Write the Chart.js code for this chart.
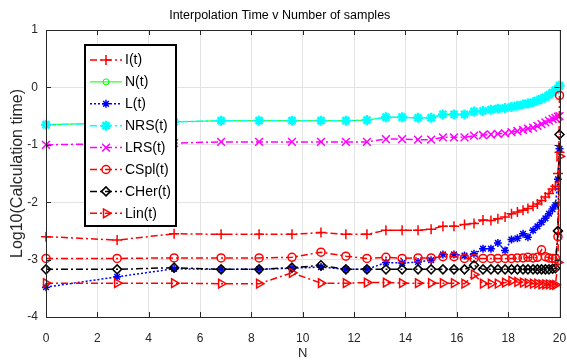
<!DOCTYPE html>
<html>
<head>
<meta charset="utf-8">
<script src="https://cdn.jsdelivr.net/npm/chart.js@4.4.1/dist/chart.umd.min.js"></script>
<style>
html,body{margin:0;padding:0;background:#fff;}
#wrap{width:567px;height:362px;}
</style>
</head>
<body>
<div id="wrap"><canvas id="c" width="567" height="362"></canvas></div>
<script>
// ---------- data ----------
const TITLE = 'Interpolation Time v Number of samples';
const X_LABEL = 'N';
const Y_LABEL = 'Log10(Calculation time)';
const SERIES_NAMES = ['I(t)', 'N(t)', 'L(t)', 'NRS(t)', 'LRS(t)', 'CSpl(t)', 'CHer(t)', 'Lin(t)'];
const X_TICKS = [0, 2, 4, 6, 8, 10, 12, 14, 16, 18, 20];
const Y_TICKS = [1, 0, -1, -2, -3, -4];

const N_values = [0, 2.77, 4.99, 6.82, 8.30, 9.58, 10.71, 11.68, 12.50, 13.24, 13.87, 14.49, 15.00, 15.46, 15.89, 16.30, 16.67,
  17.02, 17.33, 17.60, 17.88, 18.13, 18.36, 18.58, 18.77, 18.97, 19.14, 19.30, 19.45, 19.59, 19.73, 19.84, 19.94, 20.00];

const I_t = [-2.60, -2.66, -2.55, -2.56, -2.56, -2.56, -2.53, -2.56, -2.56, -2.49, -2.49, -2.49, -2.47, -2.42, -2.42, -2.39, -2.37,
  -2.31, -2.32, -2.29, -2.26, -2.20, -2.17, -2.14, -2.11, -2.07, -2.03, -1.97, -1.91, -1.85, -1.77, -1.72, -1.50, -1.13];

const N_t = [-0.65, -0.62, -0.60, -0.58, -0.58, -0.58, -0.58, -0.58, -0.57, -0.52, -0.52, -0.53, -0.53, -0.47, -0.47, -0.47, -0.42,
  -0.41, -0.39, -0.37, -0.36, -0.34, -0.32, -0.30, -0.28, -0.26, -0.23, -0.20, -0.17, -0.13, -0.09, -0.05, -0.01, 0.05];

const L_t = [-3.48, -3.30, -3.16, -3.17, -3.17, -3.15, -3.13, -3.17, -3.17, -3.05, -3.06, -3.04, -3.01, -2.91, -2.91, -2.93, -2.90,
  -2.81, -2.81, -2.71, -2.84, -2.65, -2.63, -2.55, -2.61, -2.49, -2.42, -2.35, -2.28, -2.20, -2.12, -2.05, -1.60, -1.07];

const NRS_t = [-0.65, -0.62, -0.60, -0.58, -0.58, -0.58, -0.58, -0.58, -0.57, -0.52, -0.52, -0.53, -0.53, -0.47, -0.47, -0.47, -0.42,
  -0.41, -0.39, -0.37, -0.36, -0.34, -0.32, -0.30, -0.28, -0.26, -0.23, -0.20, -0.17, -0.13, -0.09, -0.05, -0.02, 0.03];

const LRS_t = [-1.00, -0.98, -0.97, -0.95, -0.95, -0.95, -0.95, -0.95, -0.95, -0.90, -0.90, -0.91, -0.91, -0.87, -0.87, -0.87, -0.84,
  -0.83, -0.82, -0.81, -0.80, -0.78, -0.76, -0.74, -0.72, -0.70, -0.67, -0.64, -0.61, -0.58, -0.55, -0.53, -0.51, -0.50];

const CSpl_t = [-2.98, -2.98, -2.97, -2.97, -2.97, -2.96, -2.87, -2.94, -2.98, -2.96, -2.98, -2.97, -2.97, -2.95, -2.95, -2.98, -2.98,
  -2.98, -2.98, -2.98, -2.98, -2.98, -2.97, -2.97, -2.96, -2.97, -2.96, -2.83, -2.95, -2.97, -2.98, -2.98, -2.60, -0.14];

const CHer_t = [-3.17, -3.17, -3.14, -3.17, -3.17, -3.14, -3.10, -3.17, -3.17, -3.17, -3.17, -3.17, -3.17, -3.17, -3.17, -3.17, -3.10,
  -3.17, -3.17, -3.17, -3.17, -3.17, -3.17, -3.17, -3.17, -3.17, -3.17, -3.17, -3.17, -3.17, -3.16, -3.15, -2.50, -0.82];

const Lin_t = [-3.41, -3.41, -3.41, -3.42, -3.42, -3.23, -3.41, -3.41, -3.40, -3.40, -3.41, -3.41, -3.41, -3.41, -3.41, -3.42, -3.26,
  -3.42, -3.42, -3.42, -3.40, -3.37, -3.39, -3.40, -3.41, -3.42, -3.42, -3.43, -3.43, -3.43, -3.44, -3.44, -3.05, -1.20];

// ---------- styling ----------
const FONT = '"Liberation Sans", Arial, Helvetica, sans-serif';
const AXIS_COLOR = '#262626';
const DASHDOT = [7, 3, 2, 3];
const DOTTED = [2, 2];

function pts(ys) { return N_values.map((x, i) => ({ x: x, y: ys[i] })); }

const styles = [
  { data: I_t,    color: '#ff0000', dash: DASHDOT, ps: 'cross',    r: 5,   rot: 0,  w: 1.5, pw: 1.5 },
  { data: N_t,    color: '#00ff00', dash: [],      ps: 'circle',   r: 3,   rot: 0,  w: 1,   pw: 1 },
  { data: L_t,    color: '#0000ff', dash: DOTTED,  ps: 'star',     r: 4,   rot: 0,  w: 1.5, pw: 1.5 },
  { data: NRS_t,  color: '#00ffff', dash: DASHDOT, ps: 'star',     r: 5,   rot: 0,  w: 1.5, pw: 2.5 },
  { data: LRS_t,  color: '#ff00ff', dash: DASHDOT, ps: 'crossRot', r: 5.5, rot: 0,  w: 1.5, pw: 1.5 },
  { data: CSpl_t, color: '#ff0000', dash: DASHDOT, ps: 'circle',   r: 4,   rot: 0,  w: 1.5, pw: 1.5 },
  { data: CHer_t, color: '#000000', dash: DASHDOT, ps: 'rectRot',  r: 4.5, rot: 0,  w: 1.5, pw: 1.5 },
  { data: Lin_t,  color: '#ff0000', dash: DASHDOT, ps: 'triangle', r: 5,   rot: 90, w: 1.5, pw: 1.5 }
];

const datasets = styles.map((s, i) => ({
  label: SERIES_NAMES[i],
  data: pts(s.data),
  borderColor: s.color,
  backgroundColor: 'rgba(0,0,0,0)',
  borderWidth: s.w,
  borderDash: s.dash,
  pointStyle: s.ps,
  pointRadius: s.r,
  pointRotation: s.rot,
  pointBorderColor: s.color,
  pointBackgroundColor: 'rgba(0,0,0,0)',
  pointBorderWidth: s.pw,
  tension: 0,
  fill: false,
  clip: 10,
  order: styles.length - i
}));

// box around the axes with inward tick marks (MATLAB style)
const framePlugin = {
  id: 'frame',
  afterDatasetsDraw(chart) {
    const { ctx, chartArea: a, scales } = chart;
    ctx.save();
    ctx.strokeStyle = AXIS_COLOR;
    ctx.lineWidth = 1;
    ctx.setLineDash([]);
    ctx.strokeRect(Math.round(a.left) + 0.5, Math.round(a.top) + 0.5, Math.round(a.right - a.left), Math.round(a.bottom - a.top));
    ctx.beginPath();
    scales.x.ticks.forEach(t => {
      const px = Math.round(scales.x.getPixelForValue(t.value)) + 0.5;
      ctx.moveTo(px, a.bottom); ctx.lineTo(px, a.bottom - 5);
      ctx.moveTo(px, a.top); ctx.lineTo(px, a.top + 5);
    });
    scales.y.ticks.forEach(t => {
      const py = Math.round(scales.y.getPixelForValue(t.value)) + 0.5;
      ctx.moveTo(a.left, py); ctx.lineTo(a.left + 5, py);
      ctx.moveTo(a.right, py); ctx.lineTo(a.right - 5, py);
    });
    ctx.stroke();
    ctx.restore();
  }
};

function drawMarker(ctx, ds, x, y) {
  ctx.save();
  ctx.strokeStyle = ds.pointBorderColor;
  ctx.fillStyle = 'rgba(0,0,0,0)';
  ctx.lineWidth = ds.pointBorderWidth;
  ctx.setLineDash([]);
  const o = { pointStyle: ds.pointStyle, rotation: ds.pointRotation || 0, radius: ds.pointRadius, borderWidth: ds.pointBorderWidth };
  if (Chart.helpers && Chart.helpers.drawPoint) {
    Chart.helpers.drawPoint(ctx, o, x, y);
  } else {
    ctx.beginPath(); ctx.arc(x, y, ds.pointRadius, 0, Math.PI * 2); ctx.stroke();
  }
  ctx.restore();
}

// boxed legend inside the axes (upper left)
const boxLegend = {
  id: 'boxLegend',
  afterDraw(chart) {
    const ctx = chart.ctx;
    const bx = 85, by = 45, bw = 91, bh = 181, rowH = 21.9, first = 60;
    ctx.save();
    ctx.fillStyle = '#ffffff';
    ctx.fillRect(bx, by, bw, bh);
    ctx.lineWidth = 2;
    ctx.strokeStyle = '#000000';
    ctx.setLineDash([]);
    ctx.strokeRect(bx, by, bw, bh);
    chart.data.datasets.forEach((ds, i) => {
      const yy = first + i * rowH;
      ctx.save();
      ctx.strokeStyle = ds.borderColor;
      ctx.lineWidth = ds.borderWidth;
      ctx.setLineDash(ds.borderDash || []);
      ctx.beginPath(); ctx.moveTo(90, yy); ctx.lineTo(122, yy); ctx.stroke();
      ctx.restore();
      drawMarker(ctx, ds, 106, yy);
      ctx.fillStyle = '#000000';
      ctx.font = '14px ' + FONT;
      ctx.textBaseline = 'middle';
      ctx.textAlign = 'left';
      ctx.fillText(ds.label, 125, yy + 0.5);
    });
    ctx.restore();
  }
};

new Chart(document.getElementById('c').getContext('2d'), {
  type: 'line',
  data: { datasets: datasets },
  options: {
    responsive: false,
    animation: false,
    events: [],
    layout: { padding: { left: 0, right: 7.5, top: 0, bottom: 0 } },
    plugins: {
      legend: { display: false },
      tooltip: { enabled: false },
      title: {
        display: true, text: TITLE, color: '#000000',
        font: { family: FONT, size: 12.5, weight: 'normal' },
        padding: { top: 8, bottom: 7 }
      }
    },
    scales: {
      x: {
        type: 'linear', min: X_TICKS[0], max: X_TICKS[X_TICKS.length - 1],
        afterBuildTicks(s) { s.ticks = X_TICKS.map(v => ({ value: v })); },
        ticks: { color: AXIS_COLOR, font: { family: FONT, size: 12 }, padding: 14, maxRotation: 0, autoSkip: false },
        grid: { color: '#e3e3e3', drawTicks: false, lineWidth: 1 },
        border: { display: false },
        title: { display: true, text: X_LABEL, color: AXIS_COLOR, font: { family: FONT, size: 13 }, padding: { top: 0, bottom: 1 } },
        afterFit(s) { s.height = 45; s.paddingRight = 0; s.paddingLeft = 0; }
      },
      y: {
        type: 'linear', min: Y_TICKS[Y_TICKS.length - 1], max: Y_TICKS[0],
        afterBuildTicks(s) { s.ticks = Y_TICKS.slice().reverse().map(v => ({ value: v })); },
        ticks: { color: AXIS_COLOR, font: { family: FONT, size: 12 }, padding: 8, autoSkip: false },
        grid: { color: '#e3e3e3', drawTicks: false, lineWidth: 1 },
        border: { display: false },
        title: { display: true, text: Y_LABEL, color: AXIS_COLOR, font: { family: FONT, size: 16 }, padding: { top: 8, bottom: 0 } },
        afterFit(s) { s.width = 46; }
      }
    }
  },
  plugins: [framePlugin, boxLegend]
});
</script>
</body>
</html>
